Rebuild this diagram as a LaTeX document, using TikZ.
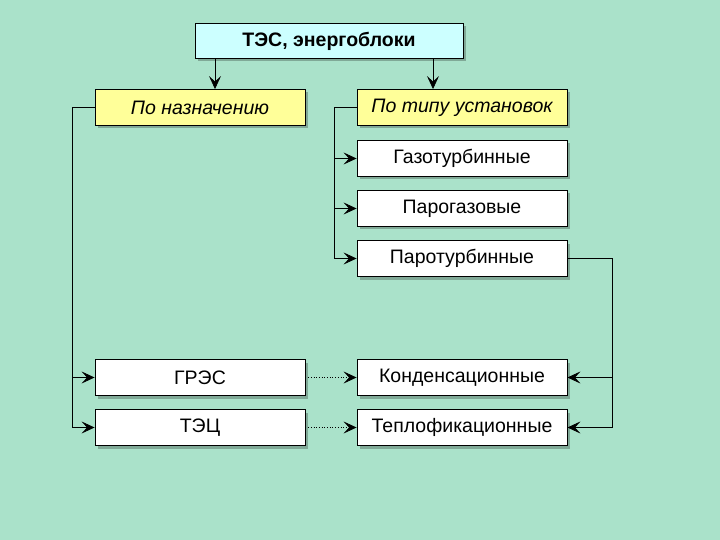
\documentclass[tikz,border=0pt]{standalone}
\usepackage{fontspec}
\setmainfont{Liberation Sans}
\usetikzlibrary{arrows.meta,shadows}
\definecolor{bgmint}{RGB}{170,226,202}
\definecolor{topcyan}{RGB}{204,255,255}
\definecolor{boxyellow}{RGB}{255,255,153}
\tikzset{
  box/.style={draw=black,fill=white,minimum width=210pt,minimum height=36pt,
    inner sep=0pt,line width=0.9pt,font=\fontsize{19.5}{22}\selectfont,
    drop shadow={shadow xshift=3pt,shadow yshift=-3pt,fill=black!25!bgmint,opacity=1}},
  headbox/.style={box,fill=topcyan,minimum width=268pt,minimum height=35pt,font=\fontsize{19.5}{22}\selectfont\bfseries},
  groupbox/.style={box,fill=boxyellow,font=\fontsize{19.5}{22}\selectfont\itshape},
  link/.style={-{Stealth[length=13pt,width=12pt,inset=5.5pt]},line width=0.7pt},
  hint/.style={link,dotted}
}
\begin{document}
\begin{tikzpicture}[x=1pt,y=-1pt]
  \fill[bgmint] (0,0) rectangle (720,540);
  \useasboundingbox (0,0) rectangle (720,540);

  \node[headbox] (tes) at (329,41) {ТЭС, энергоблоки};
  \node[groupbox] (purpose) at (200,107.5) {По назначению};
  \node[groupbox] (type) at (462,107.5) {По типу установок};

  \node[box] (gas) at (462,158.5) {Газотурбинные};
  \node[box] (ccgt) at (462,208.5) {Парогазовые};
  \node[box] (steam) at (462,258.5) {Паротурбинные};

  \node[box] (gres) at (200,377.5) {ГРЭС};
  \node[box] (tec) at (200,427.5) {ТЭЦ};
  \node[box] (cond) at (462,377.5) {Конденсационные};
  \node[box] (heat) at (462,427.5) {Теплофикационные};

  \coordinate (lbus) at (72,0);
  \coordinate (rbus) at (334,0);
  \coordinate (sbus) at (612,0);

  \draw[link] ([xshift=15pt]tes.south -| purpose.north) -- ([xshift=15pt]purpose.north);
  \draw[link] ([xshift=-29pt]tes.south -| type.north) -- ([xshift=-29pt]type.north);

  \draw (purpose.west) -- (purpose.west -| lbus) -- (tec.west -| lbus);
  \draw[link] (gres.west -| lbus) -- (gres.west);
  \draw[link] (tec.west -| lbus) -- (tec.west);

  \draw (type.west) -- (type.west -| rbus) -- (steam.west -| rbus);
  \draw[link] (gas.west -| rbus) -- (gas.west);
  \draw[link] (ccgt.west -| rbus) -- (ccgt.west);
  \draw[link] (steam.west -| rbus) -- (steam.west);

  \draw (steam.east) -- (steam.east -| sbus) -- (heat.east -| sbus);
  \draw[link] (cond.east -| sbus) -- (cond.east);
  \draw[link] (heat.east -| sbus) -- (heat.east);

  \draw[hint] (gres.east) -- (cond.west);
  \draw[hint] (tec.east) -- (heat.west);
\end{tikzpicture}
\end{document}
